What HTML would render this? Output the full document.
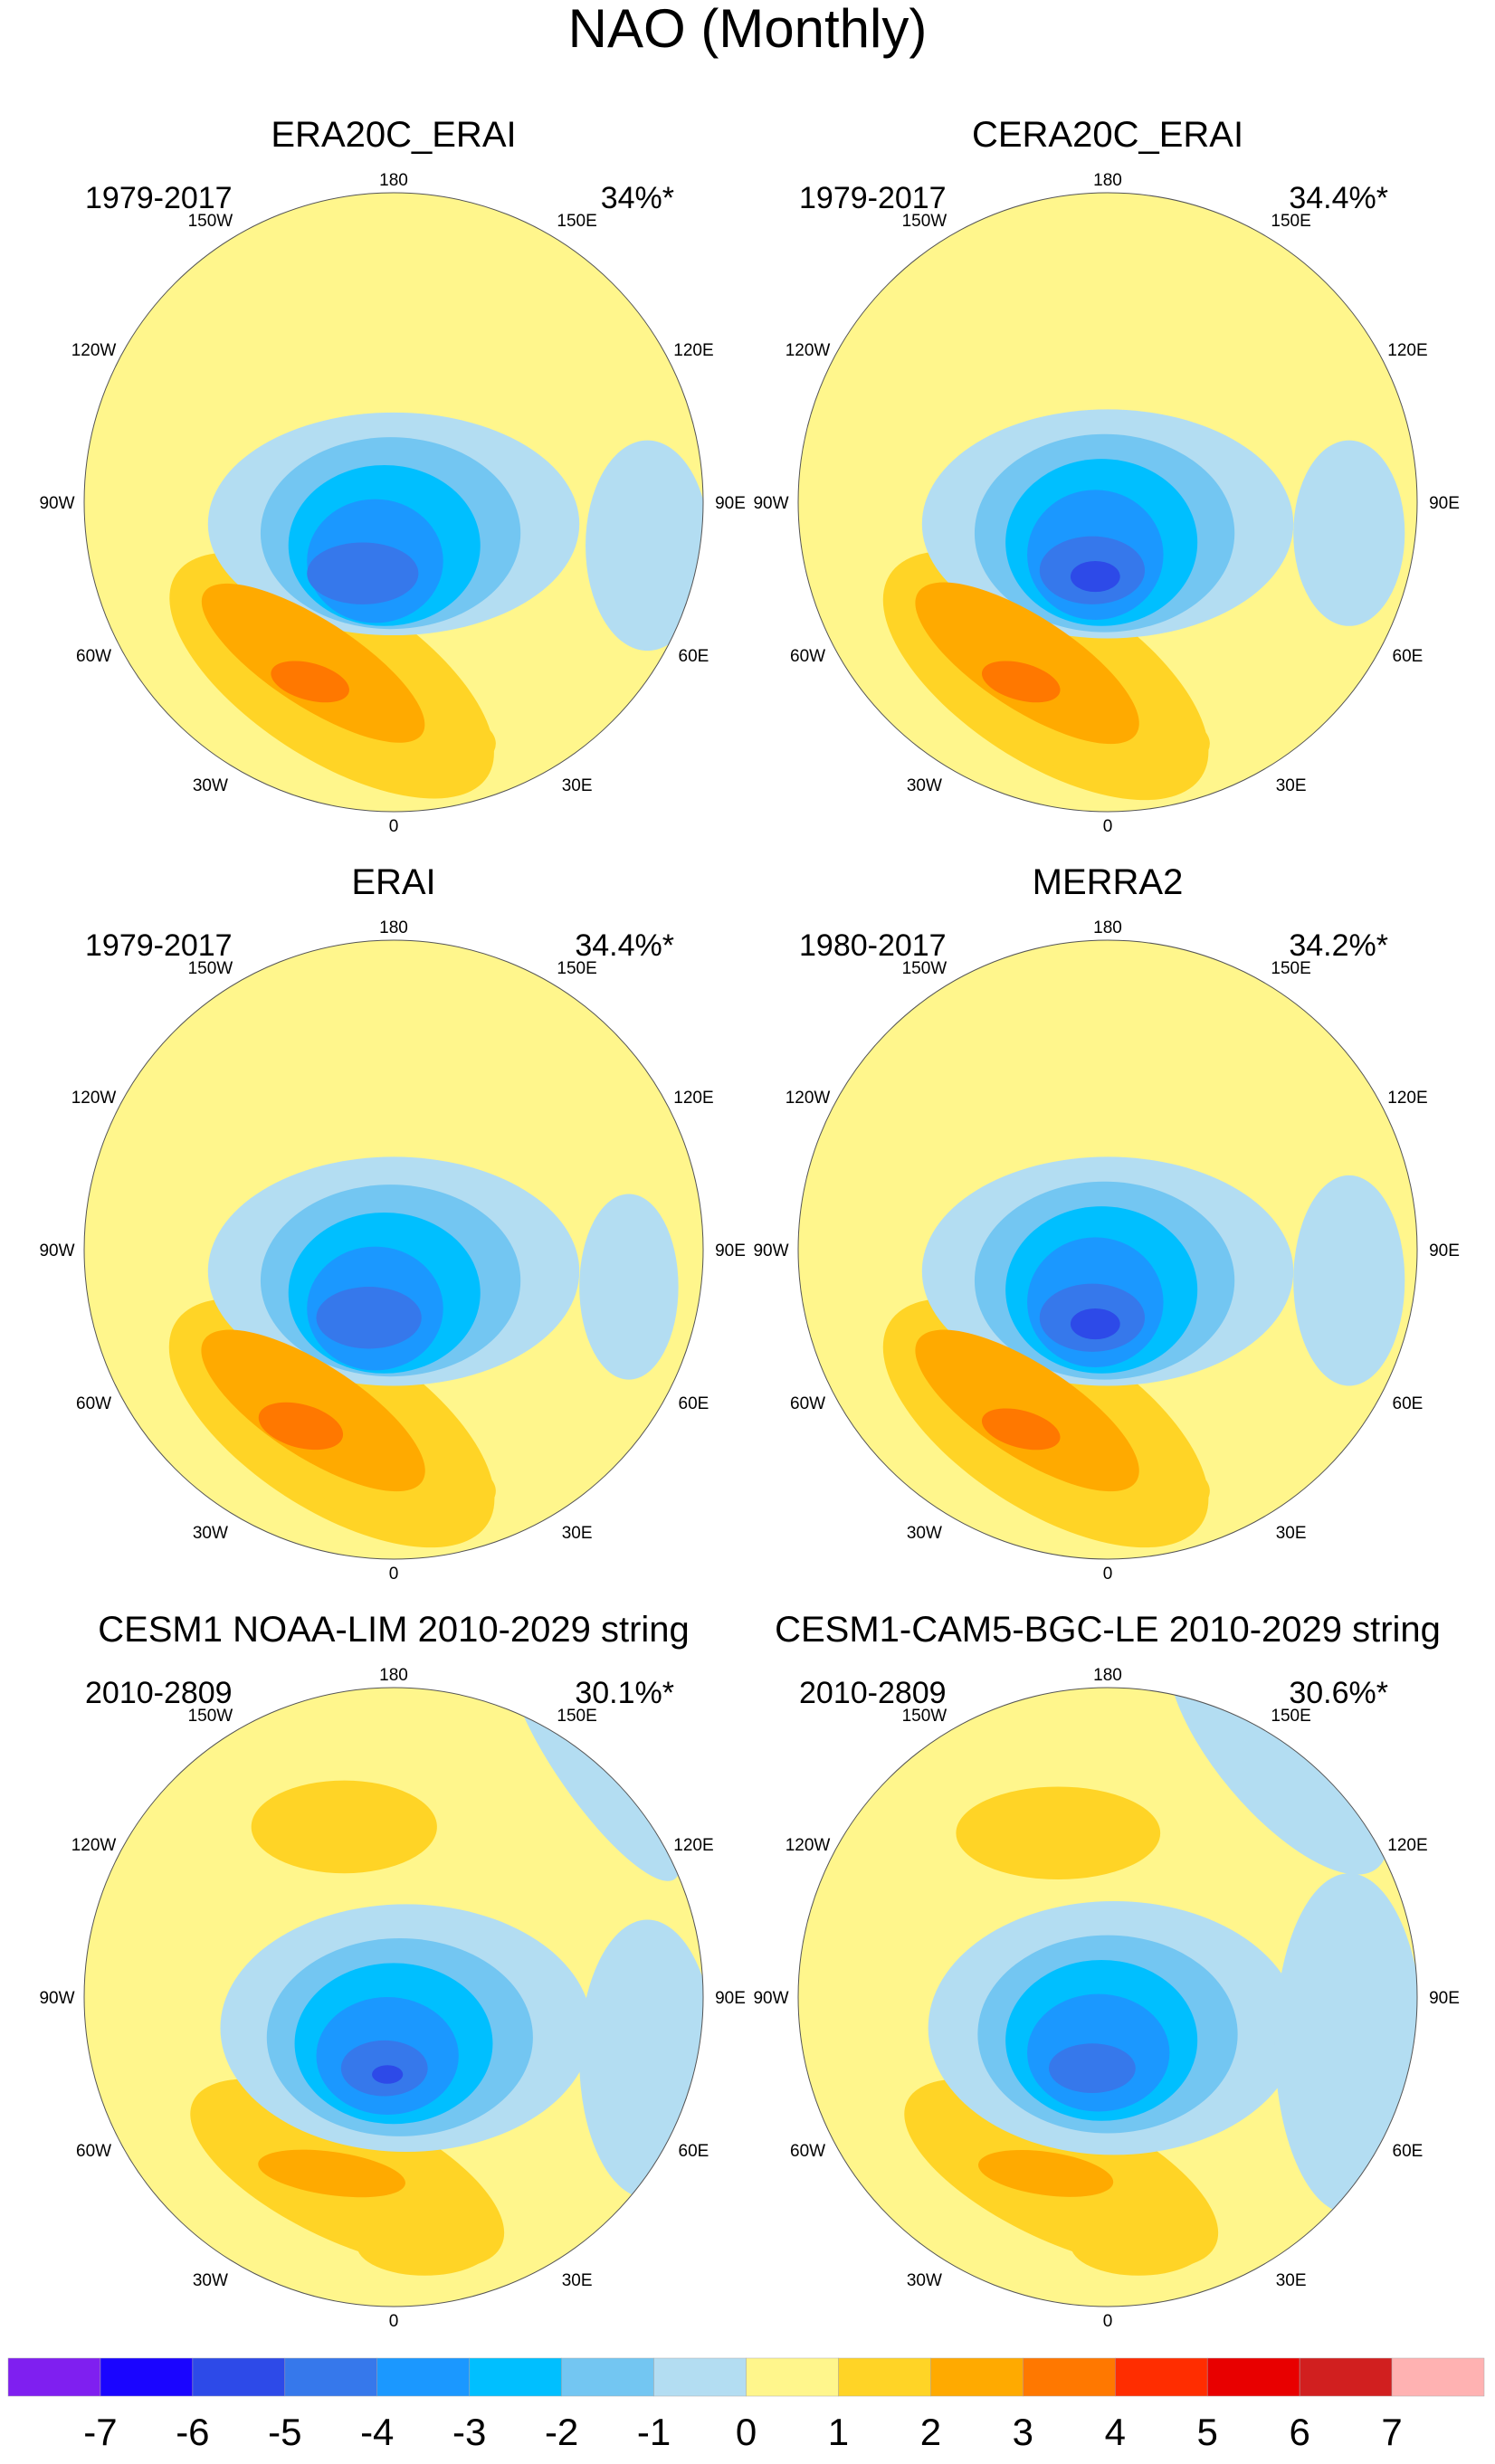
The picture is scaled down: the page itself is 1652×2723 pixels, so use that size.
<!DOCTYPE html>
<html><head><meta charset="utf-8">
<style>
html,body{margin:0;padding:0;background:#fff;}
body{width:1652px;height:2718px;overflow:hidden;font-family:"Liberation Sans",sans-serif;}
</style></head>
<body>
<svg id="fig" width="1652" height="2718" xmlns="http://www.w3.org/2000/svg" font-family="Liberation Sans, sans-serif">
<text x="826" y="52" font-size="60" text-anchor="middle">NAO (Monthly)</text>
<g id="panels"></g>
<g id="cbar"></g>
</svg>
<script>
// Contour levels and colors
const levelColors = ["#7f1ff0","#1a05ff","#2d4ae8","#3678eb","#1b98ff","#00bfff","#73c6f2","#b3ddf2","#fff68c","#ffd426","#ffaa00","#ff7800","#ff2d00","#e80000","#d11f1f","#ffb2b2"];
const tickLabels = ["-7","-6","-5","-4","-3","-2","-1","0","1","2","3","4","5","6","7"];
const lonLabels = ["180","150E","120E","90E","60E","30E","0","30W","60W","90W","120W","150W"];
const panelTitles = ["ERA20C_ERAI","CERA20C_ERAI","ERAI","MERRA2","CESM1 NOAA-LIM 2010-2029 string","CESM1-CAM5-BGC-LE 2010-2029 string"];
const panelYears = ["1979-2017","1979-2017","1979-2017","1980-2017","2010-2809","2010-2809"];
const panelPct = ["34%*","34.4%*","34.4%*","34.2%*","30.1%*","30.6%*"];
// blobs: [level value, cx, cy, rx, ry, rotation] in units of radius
const blobs1 = [[1,-0.2,0.56,0.6,0.27,33],[1,0.05,0.78,0.28,0.12,0],[-1,0,0.07,0.6,0.36,0],[-1,0.82,0.14,0.2,0.34,0],[-2,-0.01,0.1,0.42,0.31,0],[-3,-0.03,0.14,0.31,0.26,0],[-4,-0.06,0.19,0.22,0.2,0],[-5,-0.1,0.23,0.18,0.1,0],[2,-0.26,0.52,0.42,0.14,33],[3,-0.27,0.58,0.13,0.06,15]];
const blobs2 = [[1,-0.2,0.56,0.6,0.28,33],[1,0.05,0.78,0.28,0.12,0],[-1,0,0.07,0.6,0.37,0],[-1,0.78,0.1,0.18,0.3,0],[-2,-0.01,0.1,0.42,0.32,0],[-3,-0.02,0.13,0.31,0.27,0],[-4,-0.04,0.17,0.22,0.21,0],[-5,-0.05,0.22,0.17,0.11,0],[-6,-0.04,0.24,0.08,0.05,0],[2,-0.26,0.52,0.42,0.15,33],[3,-0.28,0.58,0.13,0.06,15]];
const blobs3 = [[1,-0.2,0.56,0.6,0.28,33],[1,0.05,0.78,0.28,0.12,0],[-1,0,0.07,0.6,0.37,0],[-1,0.76,0.12,0.16,0.3,0],[-2,-0.01,0.1,0.42,0.31,0],[-3,-0.03,0.14,0.31,0.26,0],[-4,-0.06,0.19,0.22,0.2,0],[-5,-0.08,0.22,0.17,0.1,0],[2,-0.26,0.52,0.42,0.15,33],[3,-0.3,0.57,0.14,0.07,15]];
const blobs4 = [[1,-0.2,0.56,0.6,0.28,33],[1,0.05,0.78,0.28,0.12,0],[-1,0,0.07,0.6,0.37,0],[-1,0.78,0.1,0.18,0.34,0],[-2,-0.01,0.1,0.42,0.32,0],[-3,-0.02,0.13,0.31,0.27,0],[-4,-0.04,0.17,0.22,0.21,0],[-5,-0.05,0.22,0.17,0.11,0],[-6,-0.04,0.24,0.08,0.05,0],[2,-0.26,0.52,0.42,0.15,33],[3,-0.28,0.58,0.13,0.06,15]];
const blobs5 = [[1,-0.15,0.57,0.55,0.22,25],[1,0.1,0.8,0.22,0.1,0],[1,-0.16,-0.55,0.3,0.15,0],[-1,0.04,0.1,0.6,0.4,0],[-1,0.82,0.2,0.22,0.45,0],[-1,0.65,-0.75,0.12,0.45,-35],[-2,0.02,0.13,0.43,0.32,0],[-3,0,0.15,0.32,0.26,0],[-4,-0.02,0.19,0.23,0.19,0],[-5,-0.03,0.23,0.14,0.09,0],[-6,-0.02,0.25,0.05,0.03,0],[2,-0.2,0.57,0.24,0.07,8]];
const blobs6 = [[1,-0.15,0.57,0.55,0.22,25],[1,0.1,0.8,0.22,0.1,0],[1,-0.16,-0.53,0.33,0.15,0],[-1,0.02,0.1,0.6,0.41,0],[-1,0.78,0.15,0.24,0.55,0],[-1,0.55,-0.8,0.2,0.5,-40],[-2,0.0,0.12,0.42,0.32,0],[-3,-0.02,0.14,0.31,0.26,0],[-4,-0.03,0.18,0.23,0.19,0],[-5,-0.05,0.23,0.14,0.08,0],[2,-0.2,0.57,0.22,0.07,8]];
const panelBlobs = [blobs1,blobs2,blobs3,blobs4,blobs5,blobs6];

const NS="http://www.w3.org/2000/svg";
const centersX=[435,1224], centersY=[555,1381,2207], R=342;
function levelColor(v){ return levelColors[v+8]; }
function mk(tag,attrs,parent){const e=document.createElementNS(NS,tag);for(const k in attrs)e.setAttribute(k,attrs[k]);parent.appendChild(e);return e;}
const panels=document.getElementById('panels');
panelBlobs.forEach((bl,i)=>{
  const cx=centersX[i%2], cy=centersY[Math.floor(i/2)];
  const g=mk('g',{},panels);
  
  
  const cp=mk('clipPath',{id:'clip'+i},g);
  mk('circle',{cx:cx,cy:cy,r:R},cp);
  const bg=mk('circle',{cx:cx,cy:cy,r:R,fill:levelColors[8]},g);
  
  
  const inner=mk('g',{'clip-path':'url(#clip'+i+')'},g);
  bl.forEach(b=>{
    const e=mk('ellipse',{cx:cx+b[1]*R,cy:cy+b[2]*R,rx:b[3]*R,ry:b[4]*R,fill:levelColor(b[0]),transform:`rotate(${b[5]} ${cx+b[1]*R} ${cy+b[2]*R})`},inner);
    
    
  });
  const ring=mk('circle',{cx:cx,cy:cy,r:R,fill:'none',stroke:'#555','stroke-width':1},g);
  
  
  const t=mk('text',{x:cx,y:cy-393,'font-size':40,'text-anchor':'middle'},g);
  t.textContent=panelTitles[i];
  
  
  const y=mk('text',{x:cx-341,y:cy-325,'font-size':34},g);
  y.textContent=panelYears[i];
  
  
  const p=mk('text',{x:cx+310,y:cy-325,'font-size':34,'text-anchor':'end'},g);
  p.textContent=panelPct[i];
  
  
  lonLabels.forEach((l,k)=>{
    let deg=k*30;
    const m=deg%180;
    if(m!==0 && m!==90){ const toward=(m<90)?1:-1; deg+=toward*3; }
    const a=deg*Math.PI/180, rr=(k%6===0)?357:372;
    const lx=cx+Math.sin(a)*rr, ly=cy-Math.cos(a)*rr+7;
    const lt=mk('text',{x:lx,y:ly,'font-size':19,'text-anchor':'middle'},g);
    lt.textContent=l;
    
    
  });
});
// colorbar
const cb=document.getElementById('cbar');
const x0=9,x1=1640,cy0=2606,ch=42,w=(x1-x0)/levelColors.length;
levelColors.forEach((c,k)=>{
  const r=mk('rect',{x:x0+k*w,y:cy0,width:w,height:ch,fill:c,stroke:'#aaa','stroke-width':0.5},cb);
  
  
});
tickLabels.forEach((l,k)=>{
  const t=mk('text',{x:x0+(k+1)*w,y:2702,'font-size':42,'text-anchor':'middle'},cb);
  t.textContent=l;
  
  
});
</script>
</body></html>
